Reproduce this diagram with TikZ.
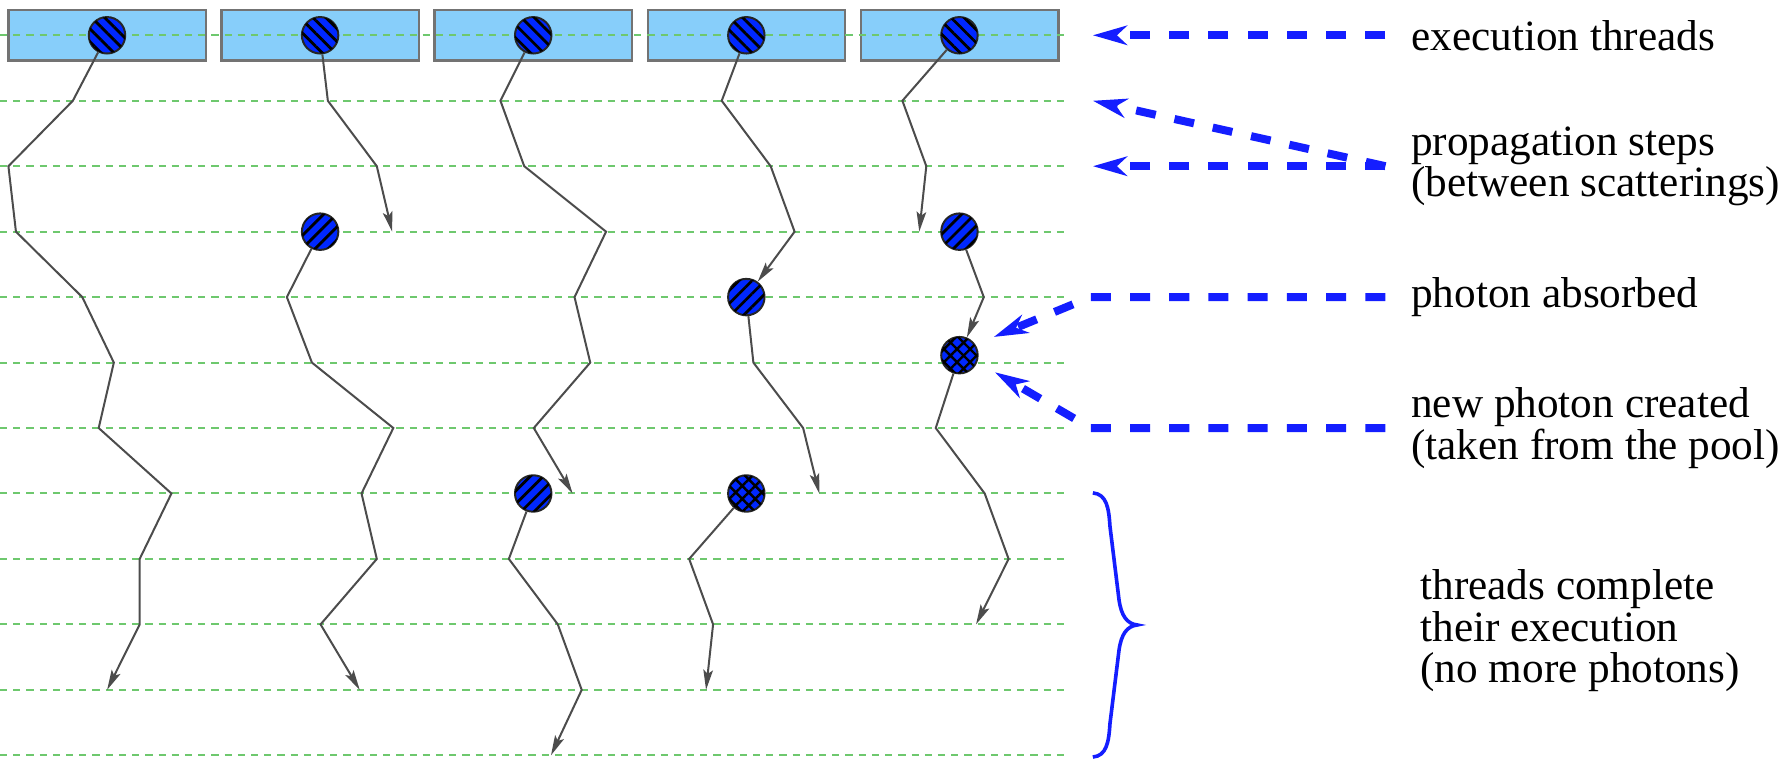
\documentclass[tikz,border=0pt]{standalone}
\usepackage{fontspec}
\setmainfont{Liberation Serif}
\usetikzlibrary{arrows.meta,patterns.meta,positioning}

\definecolor{boxblue}{RGB}{135,206,250}
\definecolor{photonblue}{RGB}{0,40,255}
\definecolor{levelgreen}{RGB}{110,200,110}
\definecolor{noteblue}{RGB}{20,30,255}

\tikzset{
  threadbox/.style={draw=black!55, fill=boxblue, line width=0.6pt},
  level/.style={draw=levelgreen, line width=0.5pt, dash pattern=on 1.8pt off 1.5pt},
  photon/.style={circle, draw=black!85, line width=0.5pt, fill=photonblue, inner sep=0pt, minimum size=0.32cm},
  startphoton/.style={photon, postaction={pattern={Lines[angle=-45,distance=2.3pt,line width=0.7pt]}}},
  newphoton/.style={photon, postaction={pattern={Lines[angle=45,distance=2.3pt,line width=0.7pt]}}},
  poolphoton/.style={photon, postaction={pattern={Hatch[angle=45,distance=2.3pt,line width=0.6pt]}}},
  track/.style={draw=black!70, line width=0.5pt},
  trackend/.style={track, -{Stealth[length=5pt,width=2.4pt,inset=1pt]}},
  note/.style={anchor=west, inner xsep=0.22cm, inner ysep=0pt, align=left, font=\fontsize{10.8}{10.3}\selectfont},
  notearrow/.style={draw=noteblue, line width=2pt, dash pattern=on 5pt off 4.8pt, -{Stealth[length=8.5pt,width=4.8pt,inset=2.5pt]}},
}

\begin{document}
\begin{tikzpicture}[x=0.01cm, y=-0.01cm]
    \useasboundingbox (0,0) rectangle (1568,667);

    % Sizes of the thread boxes
    \def\boxW{173.5}
    \def\boxH{44.2}
    \def\pitch{187.2}

    % Draw the execution thread boxes
    \foreach \i in {0,...,4}
        \draw[threadbox] ({7.4+\pitch*\i},8.8) rectangle +(\boxW,\boxH);

    % Draw the step levels
    \foreach \k in {0,...,11}
        \draw[level] (0,{31+57.5*\k}) -- (935,{31+57.5*\k});

    % Photons at the start of each thread
    \node[startphoton] (t1) at (94,31) {};
    \node[startphoton] (t2) at (281.2,31) {};
    \node[startphoton] (t3) at (468.4,31) {};
    \node[startphoton] (t4) at (655.6,31) {};
    \node[startphoton] (t5) at (842.8,31) {};

    % Photons taken later on
    \node[newphoton] (n2) at (281.2,203.5) {};
    \node[newphoton] (n3) at (468.4,433.5) {};
    \node[newphoton] (m4) at (655.6,261) {};
    \node[poolphoton] (n4) at (655.6,433.5) {};
    \node[newphoton] (m5) at (842.8,203.5) {};
    \node[poolphoton] (n5) at (842.8,312) {};

    % Thread 1
    \draw[trackend] (t1) -- (64,88.5) -- (7.4,146) -- (14,203.5) -- (72.3,261) -- (100,318.5)
        -- (86.7,376) -- (150.6,433.5) -- (122.7,491) -- (122.7,548.5) -- (94.1,606);

    % Thread 2
    \draw[trackend] (t2) -- (288,88.5) -- (331,146) -- (344.5,203.5);
    \draw[trackend] (n2) -- (252,261) -- (274,318.5) -- (345.5,376) -- (317.6,433.5)
        -- (331,491) -- (281.6,548.5) -- (316,606);

    % Thread 3
    \draw[trackend] (t3) -- (439.6,88.5) -- (460.5,146) -- (532.4,203.5) -- (504.7,261)
        -- (518.5,318.5) -- (468.9,376) -- (503,433.5);
    \draw[trackend] (n3) -- (447,491) -- (490,548.5) -- (511,606) -- (484,663.5);

    % Thread 4
    \draw[trackend] (t4) -- (634,88.5) -- (677,146) -- (698,203.5) -- (m4);
    \draw[trackend] (m4) -- (661.8,318.5) -- (705.5,376) -- (719.7,433.5);
    \draw[trackend] (n4) -- (605.4,491) -- (626.4,548.5) -- (620.2,606);

    % Thread 5
    \draw[trackend] (t5) -- (792.7,88.5) -- (813.7,146) -- (807.5,203.5);
    \draw[trackend] (m5) -- (864.2,261) -- (n5);
    \draw[trackend] (n5) -- (822,376) -- (865,433.5) -- (886,491) -- (857.4,548.5);

    % Labels on the right
    \node[note] (lexec) at (1217,31) {execution threads};
    \node[note] (lprop) at (1217,146) {propagation steps\\(between scatterings)};
    \node[note] (labs) at (1217,261) {photon absorbed};
    \node[note] (lnew) at (1217,376) {new photon created\\(taken from the pool)};
    \node[note] (ldone) at (1225,554) {threads complete\\their execution\\(no more photons)};

    % Where the label arrows point
    \coordinate (pexec) at (960,31);
    \coordinate (pstepA) at (960,88.5);
    \coordinate (pstepB) at (960,146);
    \coordinate (kabs) at (958,261);
    \coordinate (pabs) at (873,296);
    \coordinate (knew) at (958,376);
    \coordinate (pnew) at (874,327);

    \draw[notearrow] (lexec.west) -- (pexec);
    \draw[notearrow] (lprop.west) -- (pstepA);
    \draw[notearrow] (lprop.west) -- (pstepB);
    \draw[notearrow] (labs.west) -- (kabs) -- (pabs);
    \draw[notearrow] (lnew.west) -- (knew) -- (pnew);

    % Brace over the last steps
    \draw[noteblue, line width=0.9pt] (960,433) .. controls (972,434) and (974,446) .. (975,462)
        -- (983,527) .. controls (985,541) and (990,548) .. (999,549)
        .. controls (990,550) and (985,557) .. (983,571)
        -- (975,636) .. controls (974,652) and (972,664) .. (960,665);

\end{tikzpicture}
\end{document}
